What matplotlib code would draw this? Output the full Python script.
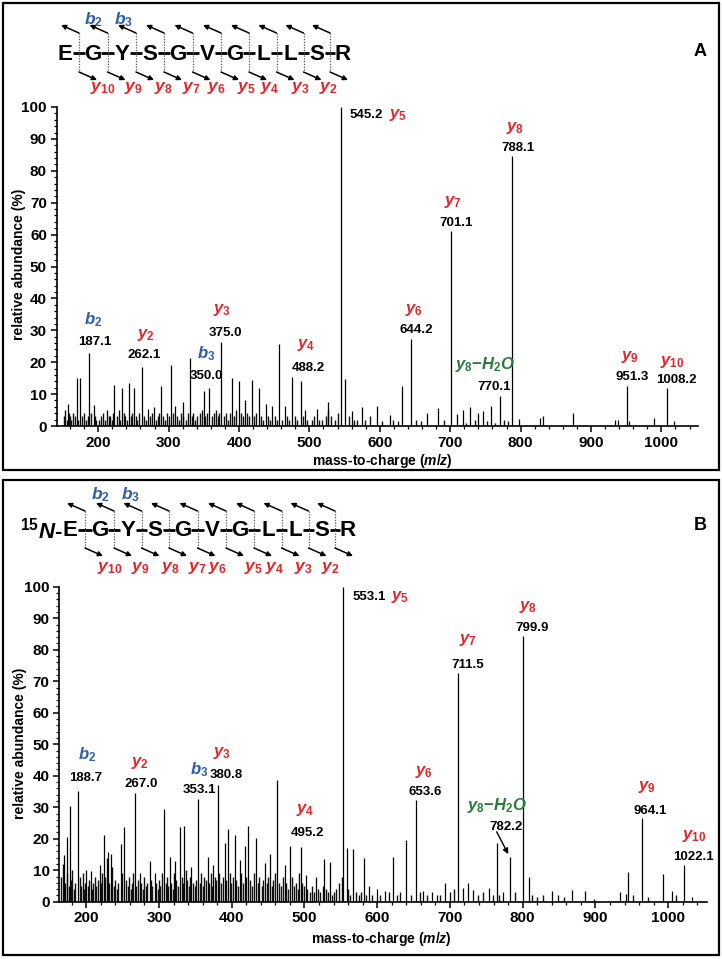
import matplotlib
matplotlib.use('Agg')
import matplotlib.pyplot as plt
from matplotlib.ticker import MultipleLocator
from matplotlib.patches import Rectangle

plt.rcParams['font.family'] = ['Liberation Sans', 'DejaVu Sans']
plt.rcParams['font.weight'] = 'bold'
plt.rcParams['mathtext.fontset'] = 'custom'
plt.rcParams['mathtext.it'] = 'Liberation Sans:italic:bold'
plt.rcParams['mathtext.rm'] = 'Liberation Sans:bold'
plt.rcParams['mathtext.bf'] = 'Liberation Sans:bold'

RED = '#e3262b'
BLUE = '#2f5da9'
GREEN = '#2b7a3b'

# ---------------- data ----------------
residues = ['E', 'G', 'Y', 'S', 'G', 'V', 'G', 'L', 'L', 'S', 'R']
b_ions = ['2', '3']
y_ions = ['10', '9', '8', '7', '6', '5', '4', '3', '2']

# panel A: main peaks (m/z, relative abundance)
peaks_a = [(156.8, 6.9), (169.6, 15), (174.3, 15), (187.1, 23), (193.3, 6.6), (214.6, 3),
           (222.6, 13), (233.5, 12), (243.9, 13.5), (250.1, 12), (262.1, 18.6), (271.4, 5.2),
           (279.9, 6), (289.4, 12.5), (303.6, 19), (309.3, 6.3), (321.1, 7.6), (330.6, 21.4),
           (350.0, 11), (357.6, 12), (375.0, 26.4), (390.7, 15), (400.1, 14), (408.7, 8),
           (418.2, 14.5), (428.6, 12), (438.1, 7), (447.5, 6.4), (457.0, 25.7), (465.5, 6.4),
           (475.0, 15.5), (488.2, 14.2), (493.9, 5), (510.5, 5.3), (527.1, 7.6), (545.2, 100),
           (550.7, 14.6), (560.2, 4.7), (574.4, 6), (595.7, 6.4), (614.7, 3.5), (631.2, 12.5),
           (644.2, 27.2), (666.7, 4.2), (683.3, 5.5), (701.1, 61), (709.4, 3.8), (717.9, 5),
           (728.3, 6), (740.1, 4), (747.2, 4.7), (758.1, 6.2), (770.1, 9.4), (788.1, 84.5),
           (798.4, 2.2), (827.7, 2.4), (831.5, 3), (875.1, 4), (934.3, 1.8), (938.0, 2),
           (951.3, 12.5), (954.6, 1.5), (990.1, 2.6), (1008.2, 12), (1018.5, 1.6)]

# panel A: low-level background peaks
noise_a = [(151, 3), (153, 5), (155, 2), (158, 4), (160, 3), (162, 2), (164, 4), (167, 3), (171, 2),
           (177, 3), (180, 4), (182, 2), (185, 3), (190, 4), (195, 3), (197, 2), (201, 2), (204, 3),
           (207, 4), (210, 2), (212, 5), (217, 3), (219, 2), (221, 4), (226, 3), (229, 5), (231, 2),
           (236, 4), (238, 3), (241, 2), (246, 3), (248, 4), (253, 3), (255, 2), (258, 4), (265, 3),
           (268, 2), (274, 3), (277, 4), (282, 2), (285, 3), (287, 4), (292, 3), (295, 2), (297, 4),
           (300, 3), (306, 4), (312, 3), (315, 2), (317, 4), (320, 3), (324, 2), (327, 4), (333, 3),
           (335, 4), (338, 2), (341, 3), (344, 4), (347, 5), (352, 3), (355, 4), (361, 3), (364, 4),
           (367, 5), (370, 3), (372, 4), (378, 3), (381, 4), (384, 2), (387, 4), (393, 3), (396, 5),
           (403, 4), (406, 3), (411, 4), (414, 3), (421, 3), (424, 4), (431, 3), (434, 2), (441, 3),
           (444, 2), (451, 3), (454, 2), (461, 2), (468, 3), (471, 2), (479, 3), (483, 2), (491, 3),
           (497, 2), (503, 2), (507, 3), (514, 2), (518, 2), (523, 3), (526, 5), (530, 3), (537, 2),
           (541, 4), (556, 3), (563, 2), (568, 2), (579, 2), (586, 3), (603, 1.5), (619, 2),
           (626, 1.5), (652, 2), (659, 1.5), (691, 2), (723, 1), (735, 2), (752, 1.5), (763, 1),
           (776, 2), (782, 1.5)]

# panel B: main peaks
peaks_b = [(169.5, 14.8), (174.0, 20.6), (177.3, 30.4), (188.7, 35.2), (200.2, 10), (206.2, 9.7),
           (218.5, 11.8), (224.5, 21.2), (230.0, 15.9), (234.6, 15.3), (247.4, 18.3), (252.0, 23.6),
           (267.0, 34.4), (273.6, 9.2), (287.3, 12.9), (294.2, 9.2), (306.6, 29.5), (314.8, 14.3),
           (322.6, 12.8), (328.6, 23.8), (334.5, 24), (344.6, 11), (353.1, 32.6), (367.5, 14.3),
           (374.4, 11.7), (380.8, 37), (390.5, 18.5), (395.0, 23), (404.2, 21.2), (411.1, 13.2),
           (418.0, 17.6), (422.5, 24), (434.0, 20.1), (445.5, 12.2), (452.4, 15.3), (462.9, 38.6),
           (473.0, 11.7), (479.9, 17.7), (495.2, 17.3), (501.9, 8.5), (516.5, 7.9), (527.1, 13.4),
           (534.9, 12.7), (553.1, 100), (557.9, 17), (567.0, 16.6), (581.7, 14), (589.0, 5),
           (599.1, 3.9), (610.5, 3.4), (621.1, 14.3), (639.4, 19.6), (653.6, 32.3), (663.3, 3.4),
           (674.7, 3.2), (681.6, 2), (693.1, 6), (711.5, 72.5), (718.3, 4.3), (725.2, 6),
           (732.0, 3.8), (754.1, 4.3), (764.2, 18.5), (773.3, 3.2), (782.2, 14.3), (799.9, 84.5),
           (809.1, 7.9), (839.9, 3.4), (849.0, 2), (867.4, 3.6), (885.7, 3.4), (933.8, 3.2),
           (942.1, 2.5), (945.2, 9.5), (964.1, 26.5), (992.6, 8.9), (1004.9, 3.4), (1022.1, 11.7),
           (1032.5, 1.4)]

# panel B: low-level background peaks
noise_b = [(166, 8), (168, 12), (171, 6), (173, 9), (176, 5), (179, 7), (181, 10), (183, 4), (185, 6),
           (191, 8), (193, 5), (195, 9), (197, 4), (199, 6), (202, 5), (204, 7), (208, 4), (210, 6),
           (212, 8), (214, 5), (216, 7), (220, 6), (222, 9), (226, 8), (228, 14), (232, 6), (236, 11),
           (238, 5), (240, 7), (242, 4), (244, 6), (249, 9), (255, 7), (257, 5), (259, 8), (261, 4),
           (263, 6), (265, 9), (269, 5), (271, 7), (276, 6), (278, 4), (280, 8), (282, 5), (284, 6),
           (289, 7), (291, 5), (296, 6), (298, 4), (300, 7), (302, 5), (304, 9), (309, 6), (311, 8),
           (313, 5), (317, 6), (319, 4), (321, 9), (324, 7), (326, 5), (331, 8), (333, 6), (337, 10),
           (339, 7), (341, 5), (343, 8), (347, 6), (349, 5), (351, 7), (356, 6), (358, 9), (360, 5),
           (362, 8), (365, 7), (369, 6), (371, 9), (373, 5), (377, 8), (379, 7), (383, 9), (385, 6),
           (388, 8), (392, 7), (397, 9), (399, 6), (402, 8), (406, 7), (408, 5), (413, 9), (415, 6),
           (420, 8), (425, 7), (428, 5), (431, 9), (436, 6), (438, 8), (441, 5), (443, 7), (448, 6),
           (450, 8), (455, 5), (457, 7), (460, 9), (465, 6), (468, 5), (470, 8), (475, 6), (477, 4),
           (483, 8), (485, 5), (488, 6), (491, 4), (493, 9), (497, 6), (499, 5), (504, 4), (507, 3),
           (510, 5), (513, 3), (519, 4), (522, 3), (525, 5), (530, 4), (532, 3), (538, 2), (541, 3),
           (544, 4), (548, 6), (551, 8), (560, 4), (563, 2), (571, 3), (575, 2), (578, 3), (584, 2),
           (593, 2), (604, 2), (616, 3), (627, 2), (632, 3), (646, 2), (659, 3), (668, 2), (686, 2),
           (700, 3), (706, 4), (738, 2), (745, 3), (759, 2), (768, 2), (789, 3), (813, 2), (820, 1.5),
           (828, 2), (857, 1.5), (898, 1), (952, 2), (972, 1.5), (1011, 2)]

# peak labels: (text, x, y) in data coordinates
mz_labels_a = [('187.1', 195.5, 26.4), ('262.1', 264.5, 22.3), ('350.0', 353.3, 15.7),
               ('375.0', 381.0, 29.1), ('488.2', 498.0, 18.1), ('545.2', 580.1, 97.5),
               ('644.2', 651.2, 30.1), ('701.1', 708.4, 63.5), ('788.1', 795.9, 87.0),
               ('770.1', 763.0, 12.3), ('951.3', 958.4, 15.3), ('1008.2', 1021.0, 14.4)]
ion_labels_a = [(r'$b_{\mathit{2}}$', BLUE, 192.2, 33.2), (r'$y_{\mathit{2}}$', RED, 267.8, 28.5),
                (r'$b_{\mathit{3}}$', BLUE, 353.3, 22.8), (r'$y_{\mathit{3}}$', RED, 376.3, 36.4),
                (r'$y_{\mathit{4}}$', RED, 494.8, 25.4), (r'$y_{\mathit{5}}$', RED, 626.0, 97.5),
                (r'$y_{\mathit{6}}$', RED, 648.0, 36.4), (r'$y_{\mathit{7}}$', RED, 703.9, 70.3),
                (r'$y_{\mathit{8}}$', RED, 792.6, 93.3),
                (r'$y_{\mathit{8}}\mathrm{-}H_{\mathit{2}}O$', GREEN, 750.0, 19.4),
                (r'$y_{\mathit{9}}$', RED, 955.0, 21.7), (r'$y_{\mathit{10}}$', RED, 1015.5, 20.2)]

mz_labels_b = [('188.7', 198.8, 39.2), ('267.0', 275.2, 37.3), ('353.1', 356.1, 35.5),
               ('380.8', 391.9, 40.2), ('495.2', 504.5, 21.7), ('553.1', 589.1, 96.8),
               ('653.6', 665.6, 34.7), ('711.5', 724.2, 75.1), ('799.9', 813.3, 86.8),
               ('782.2', 777.0, 23.8), ('964.1', 975.8, 28.9), ('1022.1', 1034.2, 14.3)]
ion_labels_b = [(r'$b_{\mathit{2}}$', BLUE, 200.7, 46.6), (r'$y_{\mathit{2}}$', RED, 274.0, 44.1),
                (r'$b_{\mathit{3}}$', BLUE, 354.7, 41.8), (r'$y_{\mathit{3}}$', RED, 386.6, 47.1),
                (r'$y_{\mathit{4}}$', RED, 501.3, 29.1), (r'$y_{\mathit{5}}$', RED, 631.9, 96.8),
                (r'$y_{\mathit{6}}$', RED, 663.7, 41.3), (r'$y_{\mathit{7}}$', RED, 724.2, 83.1),
                (r'$y_{\mathit{8}}$', RED, 807.0, 93.7),
                (r'$y_{\mathit{8}}\mathrm{-}H_{\mathit{2}}O$', GREEN, 764.3, 30.6),
                (r'$y_{\mathit{9}}$', RED, 971.2, 36.5), (r'$y_{\mathit{10}}$', RED, 1036.2, 20.9)]

# ---------------- figure ----------------
fig = plt.figure(figsize=(7.22, 9.59), dpi=100)


def spectrum(rect, xlim, peaks, noise, mz_labels, ion_labels):
    ax = fig.add_axes(rect)
    ax.vlines([p[0] for p in noise], 0, [p[1] for p in noise], color='#111111', lw=1.0)
    ax.vlines([p[0] for p in peaks], 0, [p[1] for p in peaks], color='k', lw=0.9)
    ax.set_xlim(*xlim)
    ax.set_ylim(0, 100)
    for s in ['top', 'right']:
        ax.spines[s].set_visible(False)
    for s in ['left', 'bottom']:
        ax.spines[s].set_linewidth(1.2)
    ax.xaxis.set_major_locator(MultipleLocator(100))
    ax.xaxis.set_minor_locator(MultipleLocator(20))
    ax.yaxis.set_major_locator(MultipleLocator(10))
    ax.yaxis.set_minor_locator(MultipleLocator(2))
    ax.tick_params(which='major', direction='out', length=4, width=1.1, labelsize=11, pad=3)
    ax.tick_params(which='minor', direction='out', length=2.5, width=0.9)
    for lab in ax.get_xticklabels() + ax.get_yticklabels():
        lab.set_fontweight('bold')
    for txt, x, y in mz_labels:
        ax.text(x, y, txt, ha='center', va='center', fontsize=9.5, fontweight='bold', clip_on=False)
    for txt, c, x, y in ion_labels:
        ax.text(x, y, txt, ha='center', va='center', fontsize=12, color=c, clip_on=False)
    return ax


ax_a = spectrum([56.7 / 722, 1 - 426 / 959, 641.3 / 722, 319 / 959], (141, 1052),
                peaks_a, noise_a, mz_labels_a, ion_labels_a)
ax_b = spectrum([59.3 / 722, 1 - 901.7 / 959, 647.4 / 722, 315 / 959], (163, 1053),
                peaks_b, noise_b, mz_labels_b, ion_labels_b)
ax_b.annotate('', xy=(780.2, 15.1), xytext=(764.2, 22.2),
              arrowprops=dict(arrowstyle='-|>', color='k', lw=1.0, mutation_scale=8,
                              shrinkA=0, shrinkB=0))

# overlay in pixel coordinates for frames, peptide maps and axis titles
ov = fig.add_axes([0, 0, 1, 1])
ov.set_xlim(0, 722)
ov.set_ylim(959, 0)
ov.axis('off')

for y0, y1 in [(3, 470), (480, 955)]:
    ov.add_patch(Rectangle((3, y0), 716, y1 - y0, fill=False, lw=1.6, ec='k'))

ov.text(700, 52, 'A', fontsize=13, fontweight='bold', ha='center', va='center')
ov.text(700, 526, 'B', fontsize=13, fontweight='bold', ha='center', va='center')

for yc, xc in [(264, 19), (743, 20)]:
    ov.text(xc, yc, 'relative abundance (%)', rotation=90, fontsize=10, fontweight='bold',
            ha='center', va='center')
for yc, xc in [(461, 382), (939, 381)]:
    ov.text(xc, yc, r'mass-to-charge ($m/z$)', fontsize=10, fontweight='bold',
            ha='center', va='center')


def peptide(letter_x, yc, top, bot, b_x, b_y, y_x, y_y):
    for ch, x in zip(residues, letter_x):
        ov.text(x, yc + 1, ch, fontsize=16, fontweight='bold', ha='center', va='center')
    for i in range(len(letter_x) - 1):
        x0, x1 = letter_x[i], letter_x[i + 1]
        bx = (x0 + x1) / 2
        ov.plot([x0 + 8, x1 - 8], [yc, yc], color='k', lw=2.0, solid_capstyle='butt')
        ov.plot([bx, bx], [top, bot], color='#555555', lw=0.9, ls=(0, (1, 1.2)))
        ov.annotate('', xy=(bx - 18, top - 8), xytext=(bx, top),
                    arrowprops=dict(arrowstyle='-|>', color='k', lw=1.1, mutation_scale=7,
                                    shrinkA=0, shrinkB=0))
        ov.annotate('', xy=(bx + 18, bot + 8), xytext=(bx, bot),
                    arrowprops=dict(arrowstyle='-|>', color='k', lw=1.1, mutation_scale=7,
                                    shrinkA=0, shrinkB=0))
    for n, x in zip(b_ions, b_x):
        ov.text(x, b_y, r'$b_{\mathit{%s}}$' % n, color=BLUE, fontsize=12.5, ha='center', va='center')
    for n, x in zip(y_ions, y_x):
        ov.text(x, y_y, r'$y_{\mathit{%s}}$' % n, color=RED, fontsize=12.5, ha='center', va='center')


peptide([65, 93, 122, 150, 178, 207, 235, 263, 290, 317, 343], 53, 33, 72,
        [93, 123], 20, [103, 133, 163, 191, 216, 246, 270, 300, 328], 88)
peptide([70, 100, 128, 155, 183, 212, 240, 268, 295, 322, 348], 530, 511, 548,
        [100, 130], 495, [110, 140, 170, 197, 217, 253, 275, 303, 330], 568)
ov.text(63, 531, r'$^{\mathit{15}}N$-', fontsize=16, fontweight='bold', ha='right', va='center')

fig.savefig('out.png', dpi=100)
